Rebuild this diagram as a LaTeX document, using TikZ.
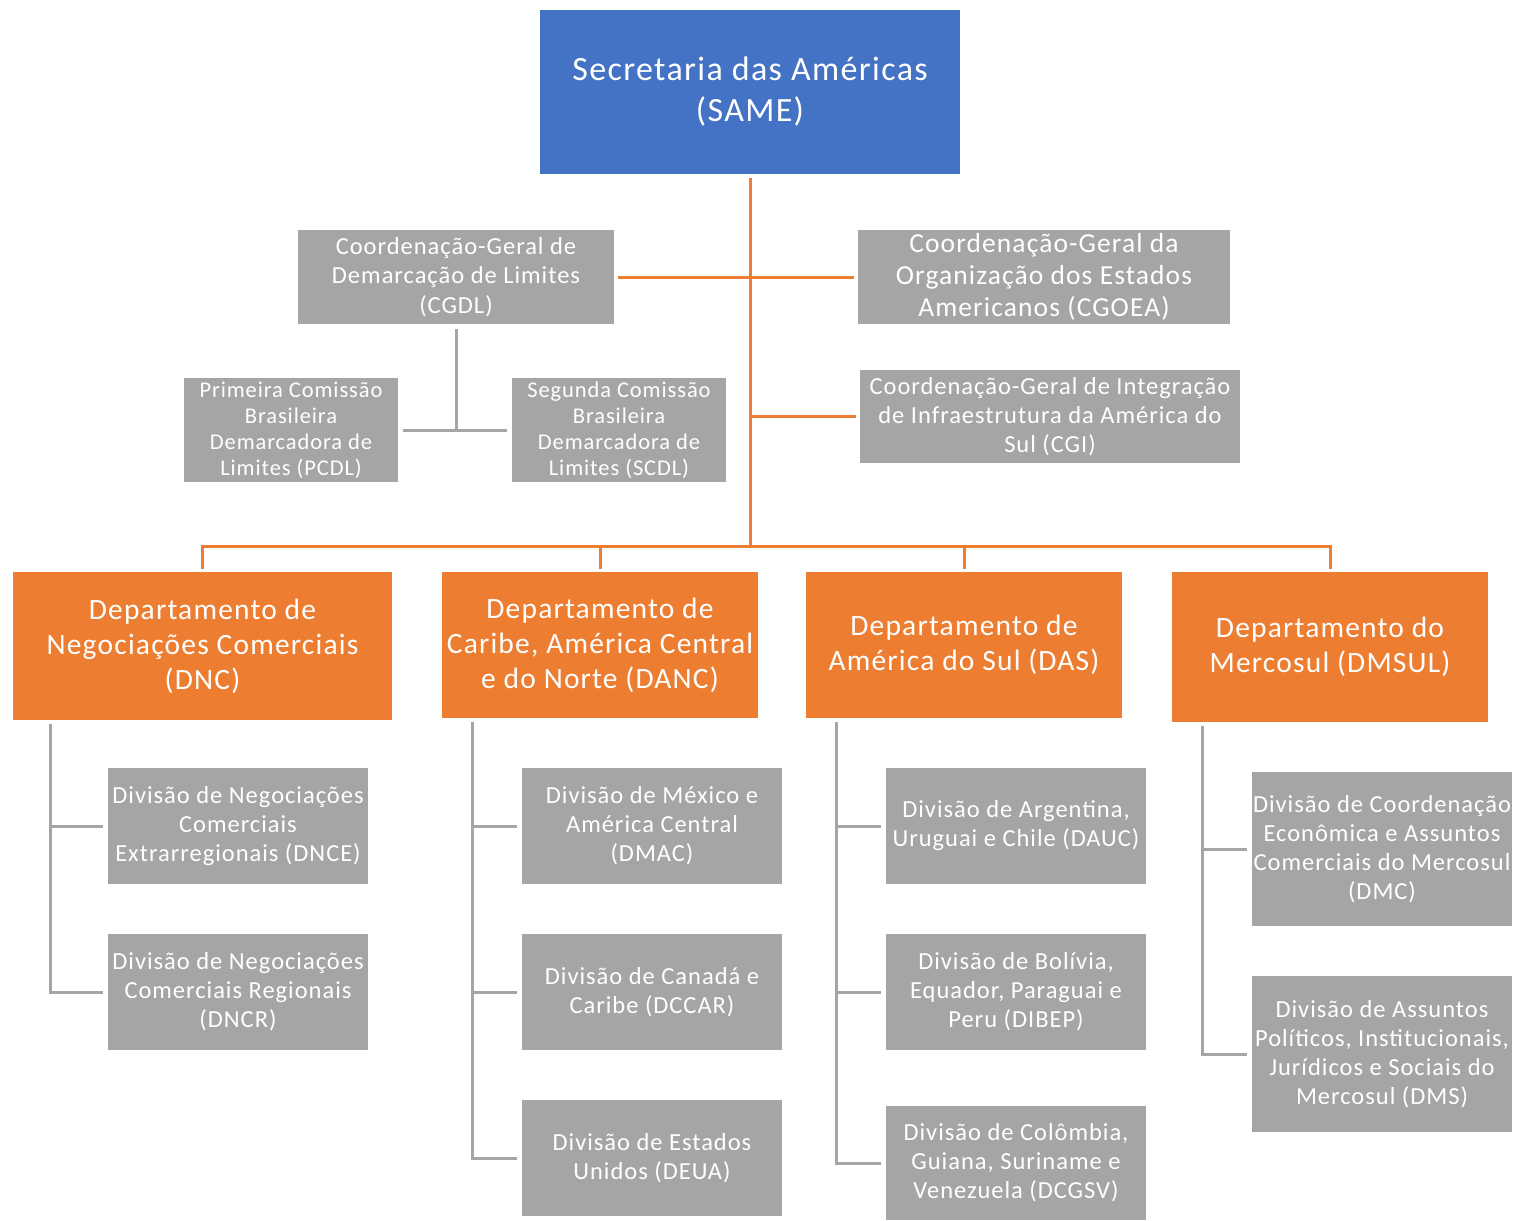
\documentclass[tikz,border=0pt]{standalone}
\usepackage{fontspec}
\setmainfont{Carlito}[LetterSpace=4]
\definecolor{sameblue}{HTML}{4472C4}
\definecolor{deporange}{HTML}{ED7D31}
\definecolor{divgray}{HTML}{A5A5A5}
\begin{document}
\begin{tikzpicture}[x=1pt,y=-1pt,line width=2.5pt,
  head node/.style={fill=sameblue,text=white,inner sep=0pt,align=center,minimum width=420pt,minimum height=164pt,font=\fontsize{34}{41}\selectfont},
  coord node/.style={fill=divgray,text=white,inner sep=0pt,align=center,font=\fontsize{24.5}{29.5}\selectfont},
  dept node/.style={fill=deporange,text=white,inner sep=0pt,align=center,minimum width=316pt,minimum height=146pt,font=\fontsize{29.5}{35}\selectfont},
  sub node/.style={fill=divgray,text=white,inner sep=0pt,align=center,minimum width=260pt,minimum height=116pt,font=\fontsize{24.5}{29}\selectfont},
  main line/.style={draw=deporange,line width=3pt},
  sub line/.style={draw=divgray,line width=3pt}]
  \useasboundingbox (0,0) rectangle (1519,1221);

  \node[head node] (same) at (750,92) {Secretaria das Américas\\(SAME)};

  \node[coord node,minimum width=316pt,minimum height=94pt] (cgdl) at (456,277) {Coordenação-Geral de\\Demarcação de Limites\\(CGDL)};
  \node[coord node,minimum width=372pt,minimum height=94pt,font=\fontsize{27.5}{32}\selectfont] (cgoea) at (1044,277) {Coordenação-Geral da\\Organização dos Estados\\Americanos (CGOEA)};
  \node[coord node,minimum width=214pt,minimum height=104pt,font=\fontsize{22.5}{26}\selectfont] (pcdl) at (291,430) {Primeira Comissão\\Brasileira\\Demarcadora de\\Limites (PCDL)};
  \node[coord node,minimum width=214pt,minimum height=104pt,font=\fontsize{22.5}{26}\selectfont] (scdl) at (619,430) {Segunda Comissão\\Brasileira\\Demarcadora de\\Limites (SCDL)};
  \node[coord node,minimum width=380pt,minimum height=93pt,font=\fontsize{24.5}{29}\selectfont] (cgi) at (1050,416.5) {Coordenação-Geral de Integração\\de Infraestrutura da América do\\Sul (CGI)};

  \node[dept node,minimum width=379pt,minimum height=148pt] (dnc) at (202.5,646) {Departamento de\\Negociações Comerciais\\(DNC)};
  \node[dept node] (danc) at (600,645) {Departamento de\\Caribe, América Central\\e do Norte (DANC)};
  \node[dept node] (das) at (964,645) {Departamento de\\América do Sul (DAS)};
  \node[dept node,minimum height=150pt] (dmsul) at (1330,647) {Departamento do\\Mercosul (DMSUL)};

  \node[sub node] (dnce) at (238,826) {Divisão de Negociações\\Comerciais\\Extrarregionais (DNCE)};
  \node[sub node] (dncr) at (238,992) {Divisão de Negociações\\Comerciais Regionais\\(DNCR)};
  \node[sub node] (dmac) at (652,826) {Divisão de México e\\América Central\\(DMAC)};
  \node[sub node] (dccar) at (652,992) {Divisão de Canadá e\\Caribe (DCCAR)};
  \node[sub node] (deua) at (652,1158) {Divisão de Estados\\Unidos (DEUA)};
  \node[sub node] (dauc) at (1016,826) {Divisão de Argentina,\\Uruguai e Chile (DAUC)};
  \node[sub node] (dibep) at (1016,992) {Divisão de Bolívia,\\Equador, Paraguai e\\Peru (DIBEP)};
  \node[sub node,minimum height=114pt] (dcgsv) at (1016,1163) {Divisão de Colômbia,\\Guiana, Suriname e\\Venezuela (DCGSV)};
  \node[sub node,minimum height=154pt] (dmc) at (1382,849) {Divisão de Coordenação\\Econômica e Assuntos\\Comerciais do Mercosul\\(DMC)};
  \node[sub node,minimum height=156pt] (dms) at (1382,1054) {Divisão de Assuntos\\Políticos, Institucionais,\\Jurídicos e Sociais do\\Mercosul (DMS)};

  % orange hierarchy
  \coordinate (bus) at (750,546);
  \draw[main line,shorten <=3pt] (same.south) -- (bus);
  \draw[main line,shorten <=3pt,shorten >=3pt] (cgdl.east) -- (cgoea.west);
  \draw[main line,shorten <=3pt] (cgi.west) -- (cgi.west -| bus);
  \draw[main line,shorten <=2pt,shorten >=2pt] (dnc.north) |- (bus) -| (dmsul.north);
  \draw[main line,shorten <=2pt] (danc.north) -- (danc.north |- bus);
  \draw[main line,shorten <=2pt] (das.north) -- (das.north |- bus);

  % gray branches
  \draw[sub line,shorten <=4pt] (cgdl.south) -- (cgdl.south |- pcdl.east);
  \draw[sub line,shorten <=4pt,shorten >=4pt] (pcdl.east) -- (scdl.west);

  \coordinate (t1) at (50,724);
  \coordinate (t2) at (472,722);
  \coordinate (t3) at (836,722);
  \coordinate (t4) at (1202,726);
  \draw[sub line,shorten >=4pt] (t1) |- (dncr.west);
  \draw[sub line,shorten >=4pt] (t1 |- dnce.west) -- (dnce.west);
  \draw[sub line,shorten >=4pt] (t2) |- (deua.west);
  \draw[sub line,shorten >=4pt] (t2 |- dmac.west) -- (dmac.west);
  \draw[sub line,shorten >=4pt] (t2 |- dccar.west) -- (dccar.west);
  \draw[sub line,shorten >=4pt] (t3) |- (dcgsv.west);
  \draw[sub line,shorten >=4pt] (t3 |- dauc.west) -- (dauc.west);
  \draw[sub line,shorten >=4pt] (t3 |- dibep.west) -- (dibep.west);
  \draw[sub line,shorten >=4pt] (t4) |- (dms.west);
  \draw[sub line,shorten >=4pt] (t4 |- dmc.west) -- (dmc.west);
\end{tikzpicture}
\end{document}
